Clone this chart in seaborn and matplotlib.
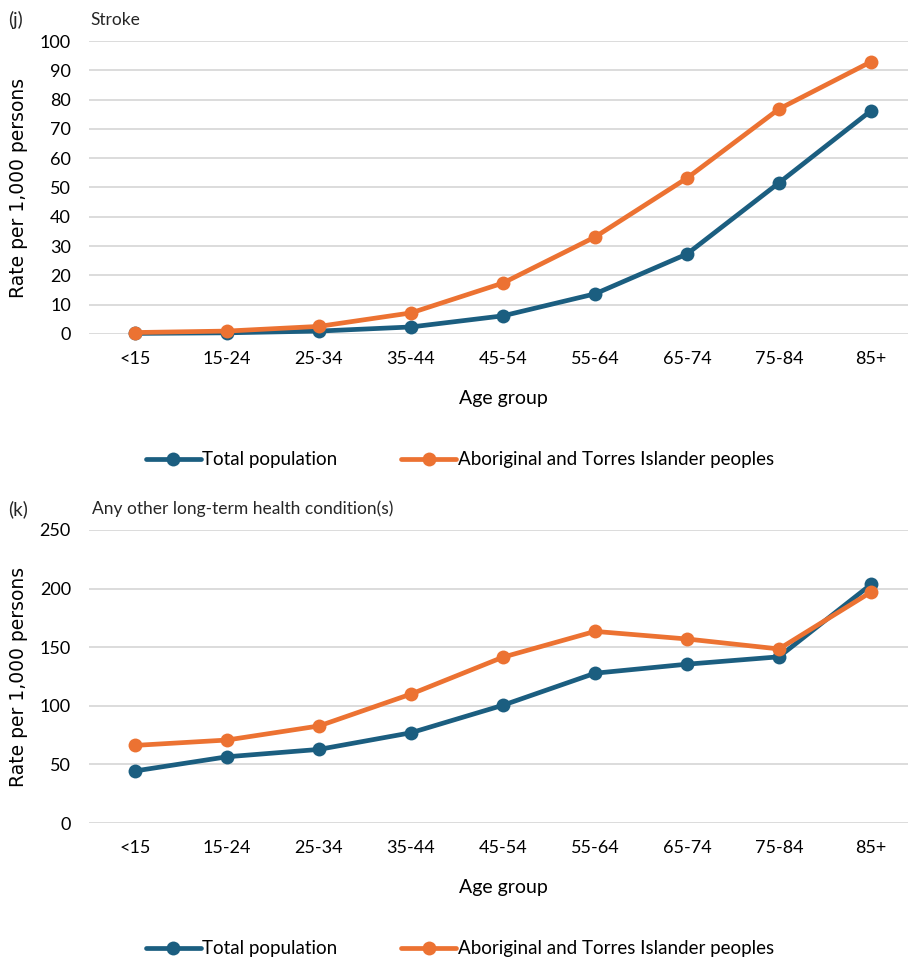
import matplotlib
matplotlib.use("Agg")
import matplotlib.pyplot as plt
import seaborn as sns
import pandas as pd
import numpy as np

age_groups = ["<15", "15-24", "25-34", "35-44", "45-54", "55-64", "65-74", "75-84", "85+"]
series_names = ["Total population", "Aboriginal and Torres Islander peoples"]

stroke_total = [0.2, 0.4, 1.0, 2.4, 6.2, 13.7, 27.3, 51.6, 76.2]
stroke_indig = [0.5, 1.0, 2.6, 7.2, 17.4, 33.1, 53.2, 76.8, 92.9]

other_total = [44.4, 56.5, 62.8, 77.0, 100.5, 127.8, 135.5, 141.8, 203.5]
other_indig = [66.2, 70.8, 82.8, 110.0, 141.5, 163.5, 157.0, 148.5, 197.0]

colors = ["#1B5E80", "#EC7232"]

sns.set_theme(style="white")
plt.rcParams['font.family'] = ['Lato', 'DejaVu Sans']

W, H = 908, 961
fig = plt.figure(figsize=(W / 100, H / 100), dpi=100)


def make_df(total, indig):
    return pd.DataFrame({
        "Age group": age_groups * 2,
        "Rate": list(total) + list(indig),
        "Series": [series_names[0]] * len(age_groups) + [series_names[1]] * len(age_groups),
    })


panels = [
    dict(total=stroke_total, indig=stroke_indig, ymax=100, step=10, top=41, bottom=334,
         tag="(j)", title="Stroke", title_x=90),
    dict(total=other_total, indig=other_indig, ymax=250, step=50, top=530, bottom=823,
         tag="(k)", title="Any other long-term health condition(s)", title_x=92),
]

left_px, right_px = 89, 917
for p in panels:
    ax = fig.add_axes([left_px / W, 1 - p["bottom"] / H, (right_px - left_px) / W,
                       (p["bottom"] - p["top"]) / H])
    df = make_df(p["total"], p["indig"])
    sns.lineplot(data=df, x="Age group", y="Rate", hue="Series", palette=colors,
                 marker="o", markersize=10, markeredgewidth=0, linewidth=3.4,
                 sort=False, ax=ax, clip_on=False, zorder=3)
    ax.set_xlim(-0.5, len(age_groups) - 0.5)
    ax.set_ylim(0, p["ymax"])
    ax.set_yticks(np.arange(0, p["ymax"] + 1, p["step"]))
    ax.grid(axis="y", color="#D9D9D9", linewidth=1.3)
    ax.grid(axis="x", visible=False)
    for s in ax.spines.values():
        s.set_visible(False)
    ax.tick_params(axis="both", length=0, labelsize=13, colors="black")
    ax.tick_params(axis="y", pad=13)
    ax.tick_params(axis="x", pad=12)
    ax.set_xlabel("Age group", fontsize=14, color="black")
    ax.xaxis.set_label_coords(0.5, -0.19)
    ax.set_ylabel("Rate per 1,000 persons", fontsize=13.5, color="black",
                  family="DejaVu Sans")
    ax.yaxis.set_label_coords(-0.074, 0.5)
    ax.legend_.remove()
    handles, labels = ax.get_legend_handles_labels()
    leg = ax.legend(handles, labels, loc="center", bbox_to_anchor=(0.448, -0.43),
                    ncol=2, frameon=False, fontsize=13.5, handlelength=2.9,
                    handletextpad=0.1, columnspacing=3.4)
    for t in leg.get_texts():
        t.set_color("black")
    fig.text(8 / W, 1 - (p["top"] - 21) / H, p["tag"], fontsize=13.5, va="center", ha="left")
    fig.text(p["title_x"] / W, 1 - (p["top"] - 21) / H, p["title"], fontsize=12.5,
             va="center", ha="left")

fig.savefig("out.png", dpi=100)
